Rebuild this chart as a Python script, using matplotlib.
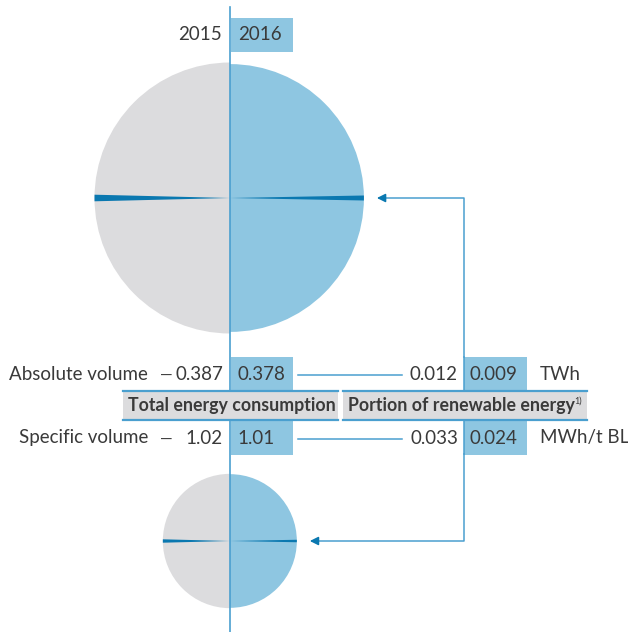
import numpy as np
import matplotlib
matplotlib.use('Agg')
import matplotlib.pyplot as plt
from matplotlib.patches import Wedge, Rectangle

# data
years = ['2015', '2016']
absolute_total = [0.387, 0.378]      # TWh
absolute_renew = [0.012, 0.009]
specific_total = [1.02, 1.01]        # MWh/t BL
specific_renew = [0.033, 0.024]
row_labels = ['Absolute volume', 'Specific volume']
units = ['TWh', 'MWh/t BL']
headers = ['Total energy consumption', 'Portion of renewable energy']

grey = '#dcdcde'
light_blue = '#8ec6e1'
line_blue = '#4a9fcf'
dark_blue = '#0a78b0'
txt = '#3a3a3a'
fs = 13.5

plt.rcParams['font.family'] = ['Lato', 'DejaVu Sans']

fig = plt.figure(figsize=(6.28, 6.32), dpi=100)
ax = fig.add_axes([0, 0, 1, 1])
ax.set_xlim(0, 628)
ax.set_ylim(632, 0)
ax.set_aspect('equal')
ax.axis('off')

cx = 230


def half_circles(cy, totals, renews, k):
    # left half = 2015, right half = 2016, radius ~ sqrt(value)
    r0 = k * np.sqrt(totals[0])
    r1 = k * np.sqrt(totals[1])
    ax.add_patch(Wedge((cx, cy), r0, 90, 270, facecolor=grey, edgecolor='none', zorder=1))
    ax.add_patch(Wedge((cx, cy), r1, -90, 90, facecolor=light_blue, edgecolor='none', zorder=1))
    # renewable share as a thin wedge
    a0 = renews[0] / totals[0] * 90
    a1 = renews[1] / totals[1] * 90
    ax.add_patch(Wedge((cx, cy), r0, 180 - a0 / 2, 180 + a0 / 2, facecolor=dark_blue, edgecolor='none', zorder=2))
    ax.add_patch(Wedge((cx, cy), r1, -a1 / 2, a1 / 2, facecolor=dark_blue, edgecolor='none', zorder=2))
    return r1


r_big = half_circles(198, absolute_total, absolute_renew, 217.8)
r_small = half_circles(541, specific_total, specific_renew, 66.5)

# vertical divider
ax.plot([cx, cx], [7, 632], color=line_blue, lw=1.2, zorder=3)

# year labels
ax.text(222, 35, years[0], ha='right', va='center', fontsize=fs, color=txt)
ax.add_patch(Rectangle((231, 18), 62, 34, facecolor=light_blue, edgecolor='none', zorder=2))
ax.text(238, 35, years[1], ha='left', va='center', fontsize=fs, color=txt, zorder=4)

# table rows
rows = [(374, absolute_total, absolute_renew), (438, specific_total, specific_renew)]
for i, (y, tot, ren) in enumerate(rows):
    ax.text(148, y, row_labels[i], ha='right', va='center', fontsize=fs, color=txt)
    ax.text(166, y + 1.5, '\u2014', ha='center', va='center', fontsize=11.5, color=txt)
    ax.text(223, y, f'{tot[0]:g}', ha='right', va='center', fontsize=fs, color=txt)
    ax.add_patch(Rectangle((231, y - 17), 62, 34, facecolor=light_blue, edgecolor='none', zorder=2))
    ax.text(237, y, f'{tot[1]:g}', ha='left', va='center', fontsize=fs, color=txt, zorder=4)
    ax.plot([298, 402], [y + 1, y + 1], color=line_blue, lw=1.1, zorder=3)
    ax.text(458, y, f'{ren[0]:.3f}', ha='right', va='center', fontsize=fs, color=txt)
    ax.add_patch(Rectangle((464, y - 17), 63, 34, facecolor=light_blue, edgecolor='none', zorder=2))
    ax.text(470, y, f'{ren[1]:.3f}', ha='left', va='center', fontsize=fs, color=txt, zorder=4)
    ax.text(540, y, units[i], ha='left', va='center', fontsize=fs, color=txt)

# renewable box edges on the divider lines
ax.plot([464, 464], [357, 454], color=line_blue, lw=1.1, zorder=3)

# header band
for x0, x1, label in [(123, 338, headers[0]), (343, 587, headers[1])]:
    ax.add_patch(Rectangle((x0, 391), x1 - x0, 29, facecolor=grey, edgecolor='none', zorder=5))
    ax.plot([x0, x1], [391, 391], color=line_blue, lw=1.6, zorder=6)
    ax.plot([x0, x1], [420, 420], color=line_blue, lw=1.6, zorder=6)
    ax.text(x0 + 5, 406, label, ha='left', va='center', fontsize=12.8, fontweight='bold', color=txt, zorder=7)
ax.text(574, 401, '1)', ha='left', va='center', fontsize=6.5, color=txt, zorder=7)

# arrows from renewable boxes to the circles
for y_box, cy, r in [(357, 198, r_big), (454, 541, r_small)]:
    tip = cx + r + 13
    ax.plot([464, 464, tip + 5], [y_box, cy, cy], color=line_blue, lw=1.1, zorder=3)
    ax.annotate('', xy=(tip, cy), xytext=(tip + 8, cy),
                arrowprops=dict(arrowstyle='-|>,head_length=0.5,head_width=0.25',
                                color=dark_blue, lw=1.1, shrinkA=0, shrinkB=0))

fig.savefig('out.png', dpi=100)
